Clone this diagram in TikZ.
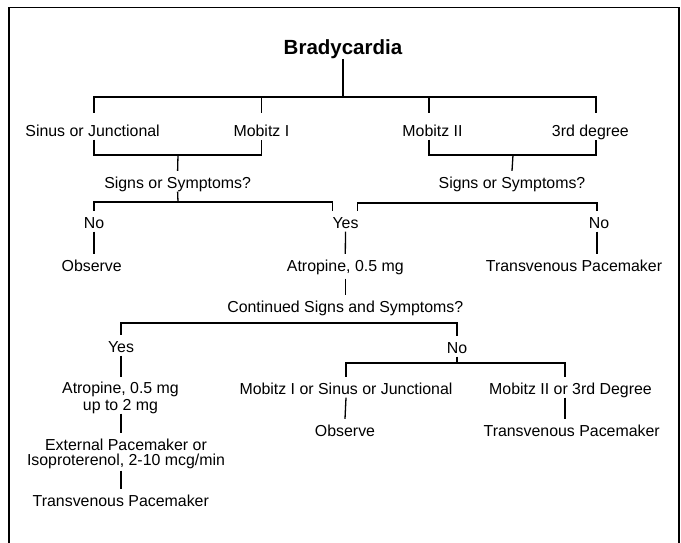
\documentclass[tikz,border=0pt]{standalone}
\usepackage{fontspec}
\setmainfont{Liberation Sans}
\usetikzlibrary{calc}
\begin{document}
\begin{tikzpicture}[x=1pt,y=-1pt,
  txt/.style={font=\fontsize{15.9}{16}\selectfont, inner sep=0pt, text height=17pt, text depth=3.5pt, anchor=base},
  txtm/.style={font=\fontsize{15.9}{16}\selectfont, inner sep=0pt, align=center, anchor=base},
  ttl/.style={font=\fontsize{20.5}{24}\selectfont\bfseries, inner sep=0pt, anchor=base},
  conn/.style={line width=1.3pt},
  frm/.style={line width=1.3pt}]
\useasboundingbox (0,0) rectangle (681,543);
% frame
\draw[frm] (9,543) -- (9,7.5) -- (679,7.5) -- (679,543);

% nodes
\node[ttl] (brady) at (343,54.5) {Bradycardia};
\node[txt] (sinus) at (92.6,136) {Sinus or Junctional};
\node[txt] (mob1) at (261.4,136) {Mobitz I};
\node[txt] (mob2) at (432.5,136) {Mobitz II};
\node[txt] (third) at (590.4,136) {3rd degree};
\node[txt] (signs1) at (177.6,188) {Signs or Symptoms?};
\node[txt] (signs2) at (512,188) {Signs or Symptoms?};
\node[txt] (no1) at (94,228) {No};
\node[txt] (yes1) at (345.5,228) {Yes};
\node[txt] (no2) at (599,228) {No};
\node[txt] (obs1) at (91.7,271) {Observe};
\node[txt] (atrop1) at (345.3,271) {Atropine, 0.5 mg};
\node[txt] (tp1) at (574,271) {Transvenous Pacemaker};
\node[txt] (cont) at (345.3,312) {Continued Signs and Symptoms?};
\node[txt] (yes2) at (121,352) {Yes};
\node[txt] (no3) at (457,353) {No};
\node[txtm] (atrop2) at (120.5,410) {Atropine, 0.5 mg\\[1pt]up to 2 mg};
\node[txt] (mob1s) at (346,394) {Mobitz I or Sinus or Junctional};
\node[txt] (mob2d) at (570.5,394) {Mobitz II or 3rd Degree};
\node[txtm] (ext) at (126,465) {External Pacemaker or\\[-1pt]Isoproterenol, 2-10 mcg/min};
\node[txt] (obs2) at (345,436) {Observe};
\node[txt] (tp3) at (571.7,436) {Transvenous Pacemaker};
\node[txt] (tp2) at (120.8,506) {Transvenous Pacemaker};

% coordinates
\coordinate (b0) at (343,97);
\coordinate (d1) at (94,113);
\coordinate (d2) at (261.4,113);
\coordinate (d3) at (429,113);
\coordinate (d4) at (596,113);
\coordinate (j1) at (178,155);
\coordinate (j2) at (513,155);
\coordinate (k1) at (178,202);
\coordinate (ya) at ($(yes1.north)+(-13,0)$);
\coordinate (yb) at ($(yes1.north)+(12,0)$);
\coordinate (k2) at (597,203);
\coordinate (bb) at (345,323);
\coordinate (cc) at (457,363);
\coordinate (cd) at (565,377);

% connectors
\draw[conn] (brady.south) -- (b0);
\draw[conn] (d1) |- (b0) -| (d4);
\draw[conn] (d2) -- (d2 |- b0);
\draw[conn] (d3) -- (d3 |- b0);
\draw[conn] (d1 |- sinus.south) |- (j1) -| (mob1.south);
\draw[conn] (j1) -- (signs1.north);
\draw[conn] (d3 |- mob2.south) |- (j2) -| (d4 |- third.south);
\draw[conn] (j2) -- (signs2.north);
\draw[conn] (signs1.south) -- (k1);
\draw[conn] (no1.north) |- (k1) -| (ya);
\draw[conn] (yb) |- (k2) -- (k2 |- no2.north);
\draw[conn] (no1.south) -- (no1.south |- obs1.north);
\draw[conn] (yes1.south) -- (atrop1.north);
\draw[conn] (k2 |- no2.south) -- (k2 |- tp1.north);
\draw[conn] ($(atrop1.south)+(0,4)$) -- (cont.north);
\draw[conn] (yes2.north) |- (bb) -| (no3.north);
\draw[conn] (yes2.south) -- ($(yes2.south |- atrop2.north)+(0,-4)$);
\draw[conn] (yes2.south |- atrop2.south) -- ($(yes2.south |- ext.north)+(0,-5)$);
\draw[conn] ($(yes2.south |- ext.south)+(0,2)$) -- (yes2.south |- tp2.north);
\draw[conn] (no3.south) -- (cc);
\draw[conn] (mob1s.north) |- (cc) -| (cd);
\draw[conn] (mob1s.south) -- (obs2.north);
\draw[conn] (cd |- mob2d.south) -- (cd |- tp3.north);
\end{tikzpicture}
\end{document}
